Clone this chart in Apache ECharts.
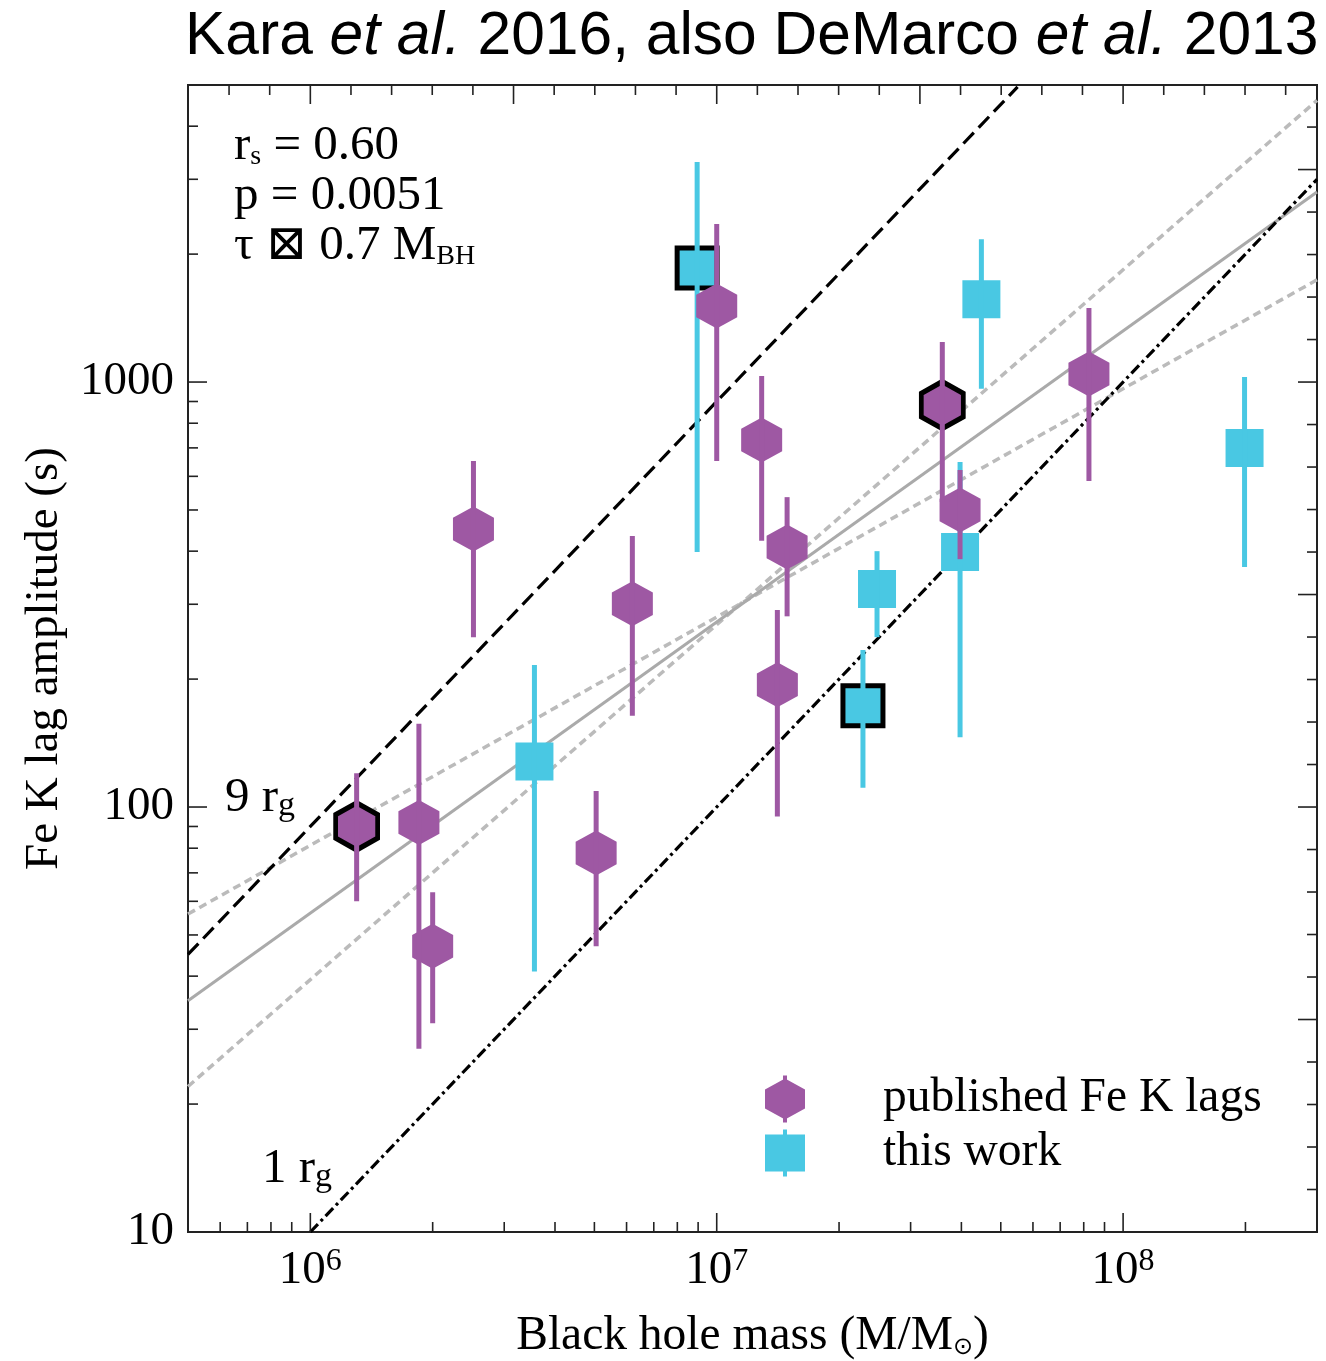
<!DOCTYPE html>
<html>
<head>
<meta charset="utf-8">
<title>Fe K lag amplitude vs black hole mass</title>
<script src="https://cdn.jsdelivr.net/npm/echarts@6/dist/echarts.min.js"></script>
<style>
  html, body { margin: 0; padding: 0; background: #fff; }
  #chart { width: 1326px; height: 1361px; }
</style>
</head>
<body>
<div id="chart"></div>
<script>
// 已发表的 Fe K 时延（紫色六边形）
const pubMass = [1.3e6, 1.85e6, 2.0e6, 2.52e6, 5.05e6, 6.2e6, 1.0e7, 1.29e7, 1.49e7, 1.41e7, 3.59e7, 3.97e7, 8.24e7]
const pubLag = [90, 92, 47, 451, 78, 301, 1510, 731, 409, 194, 883, 500, 1045]
const pubLagLow = [60, 27, 31, 251, 47, 164, 652, 423, 281, 95, 522, 383, 585]
const pubLagHigh = [120, 157, 63, 652, 109, 434, 2355, 1033, 536, 291, 1242, 621, 1493]
const pubOutlined = [true, false, false, false, false, false, false, false, false, false, true, false, false]

// 本工作（青色方块）
const newMass = [3.56e6, 8.95e6, 2.29e7, 2.48e7, 3.97e7, 4.48e7, 1.99e8]
const newLag = [128, 1854, 173, 326, 398, 1567, 700]
const newLagLow = [41, 398, 111, 251, 146, 964, 367]
const newLagHigh = [216, 3296, 234, 400, 648, 2168, 1028]
const newOutlined = [false, true, true, false, false, false, false]

// 参考线：9 rg、1 rg、拟合线及其两条边界
const nineRgLine = [[5e5, 45], [5.5e7, 4950]]
const oneRgLine = [[1e6, 10], [3e8, 3000]]
const fitLine = [[5e5, 35], [3e8, 2800]]
const fitBoundSteep = [[5e5, 22], [3e8, 4600]]
const fitBoundShallow = [[5e5, 56], [3e8, 1740]]

// 刻度
const bottomTicks = [6e5, 7e5, 8e5, 9e5, 1e6, 2e6, 3e6, 4e6, 5e6, 6e6, 7e6, 8e6, 9e6,
  1e7, 2e7, 3e7, 4e7, 5e7, 6e7, 7e7, 8e7, 9e7, 1e8, 2e8]
const leftTicks = [20, 30, 40, 50, 60, 70, 80, 90, 100, 200, 300, 400, 500, 600, 700, 800, 900,
  1000, 2000, 3000, 4000]
const topTickExponents = [5.8, 5.9, 6.0, 6.1, 6.2, 6.3, 6.4, 6.5, 6.6, 6.7, 6.8, 6.9, 7.0, 7.1,
  7.2, 7.3, 7.4, 7.5, 7.6, 7.7, 7.8, 7.9, 8.0, 8.1, 8.2, 8.3, 8.4]
const rightTickExponents = [1.1, 1.2, 1.3, 1.4, 1.5, 1.6, 1.7, 1.8, 1.9, 2.0, 2.1, 2.2, 2.3, 2.4,
  2.5, 2.6, 2.7, 2.8, 2.9, 3.0, 3.1, 3.2, 3.3, 3.4, 3.5, 3.6]

const massMin = 5e5
const massMax = 3e8
const lagMin = 10
const lagMax = 5000

const purple = '#9e58a3'
const cyan = '#49c8e3'
const serif = "'Liberation Serif', 'DejaVu Serif', serif"
const sans = "'Liberation Sans', Arial, sans-serif"

const hexSymbol = 'path://M0,-1L0.866,-0.5L0.866,0.5L0,1L-0.866,0.5L-0.866,-0.5Z'
const hexLegendIcon = 'path://M18,0L22,0L22,6L18,6Z M20,3L40,14L40,33L20,44L0,33L0,14Z M18,41L22,41L22,47L18,47Z'
const squareLegendIcon = 'path://M18,0L22,0L22,6L18,6Z M0,5L40,5L40,42L0,42Z M18,41L22,41L22,47L18,47Z'

const isPow10 = v => Math.abs(Math.log10(v) - Math.round(Math.log10(v))) < 1e-6
const isHalfDecade = e => Math.abs(e * 2 - Math.round(e * 2)) < 1e-6

// 文字样式
const txt = (family, size, extra) => Object.assign({ fontFamily: family, fontSize: size, fontWeight: 'normal', color: '#000' }, extra || {})

// 误差棒
const errorBarSeries = (name, mass, low, high, color, z) => ({
  type: 'custom',
  name: name,
  z: z,
  silent: true,
  data: mass.map((m, i) => [m, low[i], high[i]]),
  encode: { x: 0, y: [1, 2] },
  renderItem: function (params, api) {
    const lo = api.coord([api.value(0), api.value(1)])
    const hi = api.coord([api.value(0), api.value(2)])
    return {
      type: 'line',
      shape: { x1: lo[0], y1: lo[1], x2: hi[0], y2: hi[1] },
      style: { stroke: color, lineWidth: 5 }
    }
  }
})

// 数据点（部分带黑色描边）
const markerSeries = (name, mass, lag, outlined, symbol, size, boldSize, color, z) => ({
  type: 'scatter',
  name: name,
  z: z,
  symbol: symbol,
  symbolSize: size,
  itemStyle: { color: color, opacity: 1 },
  data: mass.map((m, i) => outlined[i]
    ? { value: [m, lag[i]], symbolSize: boldSize, itemStyle: { borderColor: '#000', borderWidth: 5 } }
    : [m, lag[i]])
})

// 参考直线
const refLine = (data, color, width, type) => ({
  type: 'line',
  data: data,
  z: 1,
  silent: true,
  symbol: 'none',
  clip: true,
  lineStyle: { color: color, width: width, type: type }
})

// 四边朝内的刻度线
const tickSeries = (data, side) => ({
  type: 'custom',
  z: 10,
  silent: true,
  data: data,
  encode: { x: 0, y: 1 },
  renderItem: function (params, api) {
    const cs = params.coordSys
    const p = api.coord([api.value(0), api.value(1)])
    const len = api.value(2) ? 19 : 10
    let shape
    if (side === 'bottom') shape = { x1: p[0], y1: cs.y + cs.height, x2: p[0], y2: cs.y + cs.height - len }
    else if (side === 'top') shape = { x1: p[0], y1: cs.y, x2: p[0], y2: cs.y + len }
    else if (side === 'left') shape = { x1: cs.x, y1: p[1], x2: cs.x + len, y2: p[1] }
    else shape = { x1: cs.x + cs.width, y1: p[1], x2: cs.x + cs.width - len, y2: p[1] }
    return { type: 'line', shape: shape, style: { stroke: '#222', lineWidth: 1.6 } }
  }
})

const chart = echarts.init(document.getElementById('chart'))

const option = {
  animation: false,
  backgroundColor: '#fff',
  title: [
    {
      left: 185,
      top: 4,
      padding: 0,
      text: '{n|Kara }{i|et al.}{n| 2016, also DeMarco }{i|et al.}{n| 2013}',
      textStyle: {
        fontWeight: 'normal',
        rich: {
          n: txt(sans, 60.5, { lineHeight: 66 }),
          i: txt(sans, 60.5, { lineHeight: 66, fontStyle: 'italic' })
        }
      }
    },
    {
      left: 234,
      top: 121,
      padding: 0,
      text: '{m|r}{s|s}{m| = 0.60}\n{m|p = 0.0051}\n{m|τ ⊠ 0.7 M}{b|BH}',
      textStyle: {
        fontWeight: 'normal',
        rich: {
          m: txt(serif, 49, { lineHeight: 50 }),
          s: txt(serif, 28, { lineHeight: 30, verticalAlign: 'bottom' }),
          b: txt(serif, 28, { lineHeight: 30, verticalAlign: 'bottom' })
        }
      }
    },
    {
      left: 225,
      top: 773,
      padding: 0,
      text: '{m|9 r}{g|g}',
      textStyle: {
        fontWeight: 'normal',
        rich: {
          m: txt(serif, 49, { lineHeight: 50 }),
          g: txt(serif, 34, { lineHeight: 34, verticalAlign: 'bottom' })
        }
      }
    },
    {
      left: 262,
      top: 1144,
      padding: 0,
      text: '{m|1 r}{g|g}',
      textStyle: {
        fontWeight: 'normal',
        rich: {
          m: txt(serif, 49, { lineHeight: 50 }),
          g: txt(serif, 34, { lineHeight: 34, verticalAlign: 'bottom' })
        }
      }
    }
  ],
  legend: {
    orient: 'vertical',
    left: 765,
    top: 1075,
    padding: 0,
    itemWidth: 40,
    itemHeight: 47,
    itemGap: 6,
    selectedMode: false,
    formatter: name => '{gap| }{t|' + name + '}',
    textStyle: {
      rich: {
        gap: { width: 73 },
        t: txt(serif, 47.5)
      }
    },
    data: [
      { name: 'published Fe K lags', icon: hexLegendIcon },
      { name: 'this work', icon: squareLegendIcon }
    ]
  },
  grid: {
    left: 188,
    right: 9,
    top: 85,
    bottom: 129,
    outerBoundsMode: 'none',
    containLabel: false,
    show: true,
    borderColor: '#222',
    borderWidth: 2,
    backgroundColor: 'transparent'
  },
  xAxis: {
    type: 'log',
    logBase: 10,
    min: massMin,
    max: massMax,
    axisLine: { show: false },
    axisTick: { show: false },
    splitLine: { show: false },
    axisLabel: {
      margin: 14,
      showMinLabel: false,
      showMaxLabel: false,
      formatter: v => isPow10(v) ? '{base|10}{sup|' + Math.round(Math.log10(v)) + '}' : '',
      rich: {
        base: txt(serif, 47, { lineHeight: 50 }),
        sup: txt(serif, 32, { lineHeight: 22, verticalAlign: 'top' })
      }
    },
    name: '{a|Black hole mass (M/M}{s|⊙}{a|)}',
    nameLocation: 'middle',
    nameGap: 82,
    nameTextStyle: {
      rich: {
        a: txt(serif, 47.5, { lineHeight: 46 }),
        s: txt("'DejaVu Sans', sans-serif", 24, { lineHeight: 26, verticalAlign: 'bottom' })
      }
    }
  },
  yAxis: {
    type: 'log',
    logBase: 10,
    min: lagMin,
    max: lagMax,
    axisLine: { show: false },
    axisTick: { show: false },
    splitLine: { show: false },
    axisLabel: Object.assign(txt(serif, 47), {
      margin: 14,
      showMaxLabel: false,
      formatter: v => isPow10(v) ? String(Math.round(v)) : ''
    }),
    name: 'Fe K lag amplitude (s)',
    nameLocation: 'middle',
    nameRotate: 90,
    nameGap: 120,
    nameTextStyle: txt(serif, 47)
  },
  series: [
    refLine(fitBoundSteep, '#bbbbbb', 3.5, [8, 5]),
    refLine(fitBoundShallow, '#bbbbbb', 3.5, [8, 5]),
    refLine(fitLine, '#aaaaaa', 3, 'solid'),
    refLine(nineRgLine, '#000', 3.2, [15, 7]),
    refLine(oneRgLine, '#000', 3.2, [11, 4, 3, 4]),
    markerSeries('this work', newMass, newLag, newOutlined, 'rect', 38, 40, cyan, 2),
    errorBarSeries('this work errors', newMass, newLagLow, newLagHigh, cyan, 3),
    markerSeries('published Fe K lags', pubMass, pubLag, pubOutlined, hexSymbol, [41, 45], [42, 47], purple, 4),
    errorBarSeries('published errors', pubMass, pubLagLow, pubLagHigh, purple, 5),
    tickSeries(bottomTicks.map(v => [v, lagMin, isPow10(v)]), 'bottom'),
    tickSeries(topTickExponents.map(e => [Math.pow(10, e), lagMin, isHalfDecade(e)]), 'top'),
    tickSeries(leftTicks.map(v => [massMin, v, isPow10(v)]), 'left'),
    tickSeries(rightTickExponents.map(e => [massMin, Math.pow(10, e), isHalfDecade(e)]), 'right')
  ]
}

chart.setOption(option)
</script>
</body>
</html>
